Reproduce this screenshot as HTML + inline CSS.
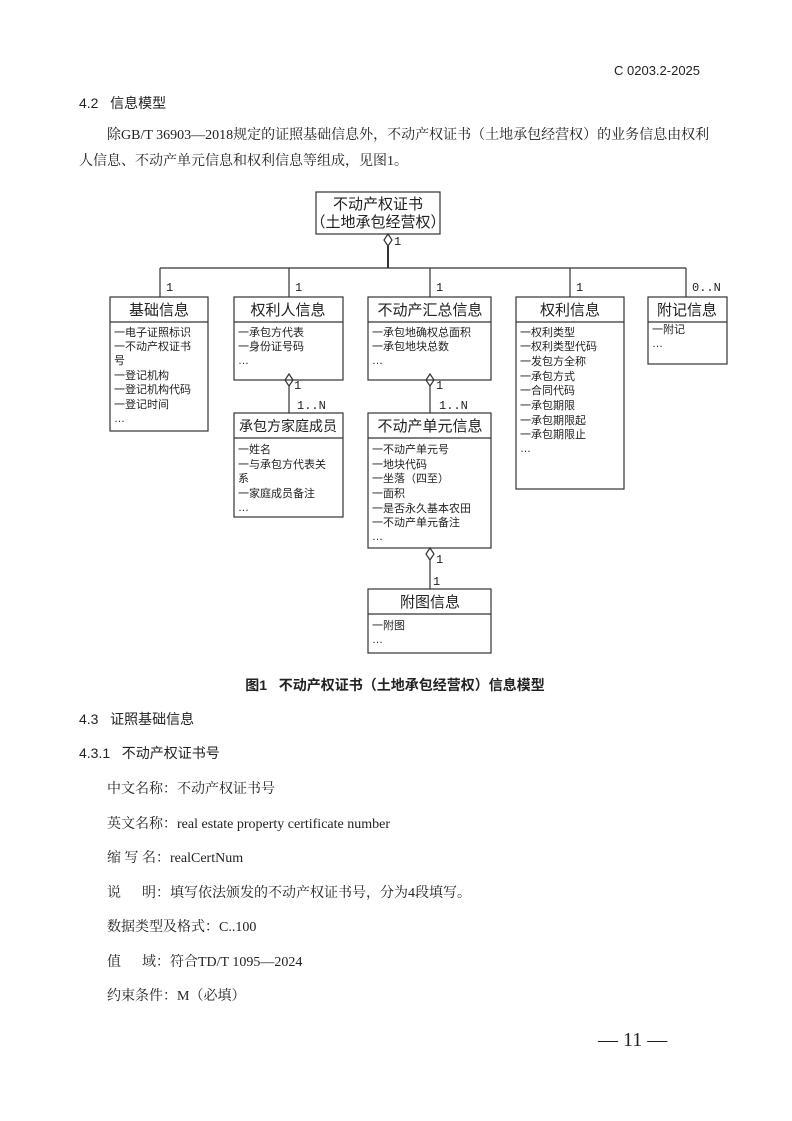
<!DOCTYPE html>
<html><head><meta charset="utf-8"><style>
html,body{margin:0;padding:0;background:#fff;}
svg{display:block;}
text{white-space:pre;}
.s{font-family:"Liberation Serif","Noto Serif CJK SC",serif;fill:#222;}
.h{font-family:"Liberation Sans","Noto Sans CJK SC",sans-serif;fill:#222;}
.m{font-family:"Liberation Mono","Noto Sans CJK SC",monospace;fill:#222;}
</style></head><body>
<svg width="792" height="1121" viewBox="0 0 792 1121" xmlns="http://www.w3.org/2000/svg" xml:space="preserve">
<rect width="792" height="1121" fill="#fff"/>
<text class="h" x="614" y="75" font-size="13">C 0203.2-2025</text>
<text class="h" x="79" y="108" font-size="14">4.2   信息模型</text>
<text class="s" x="107" y="139" font-size="14">除GB/T 36903—2018规定的证照基础信息外，不动产权证书（土地承包经营权）的业务信息由权利</text>
<text class="s" x="79" y="165" font-size="14">人信息、不动产单元信息和权利信息等组成，见图1。</text>

<g stroke="#333" fill="none" stroke-width="1.2">
<rect x="316" y="192" width="124" height="42"/>
<path d="M388 234 L392 240 L388 246 L384 240 Z"/>
<line x1="388" y1="246" x2="388" y2="268" stroke-width="2"/>
<line x1="160" y1="268" x2="686" y2="268"/>
<line x1="160" y1="268" x2="160" y2="297"/>
<line x1="289" y1="268" x2="289" y2="297"/>
<line x1="430" y1="268" x2="430" y2="297"/>
<line x1="570" y1="268" x2="570" y2="297"/>
<line x1="686" y1="268" x2="686" y2="297"/>
<rect x="110" y="297" width="98" height="134"/><line x1="110" y1="322" x2="208" y2="322"/>
<rect x="234" y="297" width="109" height="83"/><line x1="234" y1="322" x2="343" y2="322"/>
<rect x="368" y="297" width="123" height="83"/><line x1="368" y1="322" x2="491" y2="322"/>
<rect x="516" y="297" width="108" height="192"/><line x1="516" y1="322" x2="624" y2="322"/>
<rect x="648" y="297" width="79" height="67"/><line x1="648" y1="322" x2="727" y2="322"/>
<path d="M289 374 L293 380 L289 386 L285 380 Z"/>
<line x1="289" y1="386" x2="289" y2="413"/>
<rect x="234" y="413" width="109" height="104"/><line x1="234" y1="438" x2="343" y2="438"/>
<path d="M430 374 L434 380 L430 386 L426 380 Z"/>
<line x1="430" y1="386" x2="430" y2="413"/>
<rect x="368" y="413" width="123" height="135"/><line x1="368" y1="438" x2="491" y2="438"/>
<path d="M430 548 L434 554 L430 560 L426 554 Z"/>
<line x1="430" y1="560" x2="430" y2="589"/>
<rect x="368" y="589" width="123" height="64"/><line x1="368" y1="614" x2="491" y2="614"/>
</g>
<g class="h" font-size="15" text-anchor="middle">
<text x="378" y="209">不动产权证书</text>
<text x="378" y="227">（土地承包经营权）</text>
<text x="159" y="315">基础信息</text>
<text x="288" y="315">权利人信息</text>
<text x="430" y="315">不动产汇总信息</text>
<text x="570" y="315">权利信息</text>
<text x="687" y="315">附记信息</text>
<text x="288" y="431" font-size="14">承包方家庭成员</text>
<text x="430" y="431">不动产单元信息</text>
<text x="430" y="607">附图信息</text>
</g>
<g class="m" font-size="12">
<text x="394" y="245">1</text>
<text x="166" y="291">1</text><text x="295" y="291">1</text><text x="436" y="291">1</text><text x="576" y="291">1</text><text x="692" y="291">0..N</text>
<text x="294" y="389">1</text><text x="297" y="409">1..N</text>
<text x="436" y="389">1</text><text x="439" y="409">1..N</text>
<text x="436" y="563">1</text><text x="433" y="585">1</text>
</g>
<g class="h" font-size="11">
<text x="114" y="336">一电子证照标识</text><text x="114" y="350">一不动产权证书</text><text x="114" y="364">号</text><text x="114" y="379">一登记机构</text><text x="114" y="393">一登记机构代码</text><text x="114" y="408">一登记时间</text><text x="114" y="422">…</text>
<text x="238" y="336">一承包方代表</text><text x="238" y="350">一身份证号码</text><text x="238" y="364">…</text>
<text x="372" y="336">一承包地确权总面积</text><text x="372" y="350">一承包地块总数</text><text x="372" y="364">…</text>
<text x="520" y="336">一权利类型</text><text x="520" y="350">一权利类型代码</text><text x="520" y="365">一发包方全称</text><text x="520" y="380">一承包方式</text><text x="520" y="394">一合同代码</text><text x="520" y="409">一承包期限</text><text x="520" y="424">一承包期限起</text><text x="520" y="438">一承包期限止</text><text x="520" y="452">…</text>
<text x="652" y="333">一附记</text><text x="652" y="347">…</text>
<text x="238" y="453">一姓名</text><text x="238" y="468">一与承包方代表关</text><text x="238" y="482">系</text><text x="238" y="497">一家庭成员备注</text><text x="238" y="511">…</text>
<text x="372" y="453">一不动产单元号</text><text x="372" y="468">一地块代码</text><text x="372" y="482">一坐落（四至）</text><text x="372" y="497">一面积</text><text x="372" y="512">一是否永久基本农田</text><text x="372" y="526">一不动产单元备注</text><text x="372" y="540">…</text>
<text x="372" y="629">一附图</text><text x="372" y="643">…</text>
</g>

<text class="h" x="395" y="690" font-size="14" text-anchor="middle" font-weight="bold">图1   不动产权证书（土地承包经营权）信息模型</text>
<text class="h" x="79" y="724" font-size="14">4.3   证照基础信息</text>
<text class="h" x="79" y="758" font-size="14">4.3.1   不动产权证书号</text>
<g class="s" font-size="14">
<text x="107" y="793">中文名称：不动产权证书号</text>
<text x="107" y="828">英文名称：real estate property certificate number</text>
<text x="107" y="862">缩 写 名：realCertNum</text>
<text x="107" y="897">说      明：填写依法颁发的不动产权证书号，分为4段填写。</text>
<text x="107" y="931">数据类型及格式：C..100</text>
<text x="107" y="966">值      域：符合TD/T 1095—2024</text>
<text x="107" y="1000">约束条件：M（必填）</text>
<text x="598" y="1046" font-size="20">— 11 —</text>
</g>
</svg>
</body></html>
